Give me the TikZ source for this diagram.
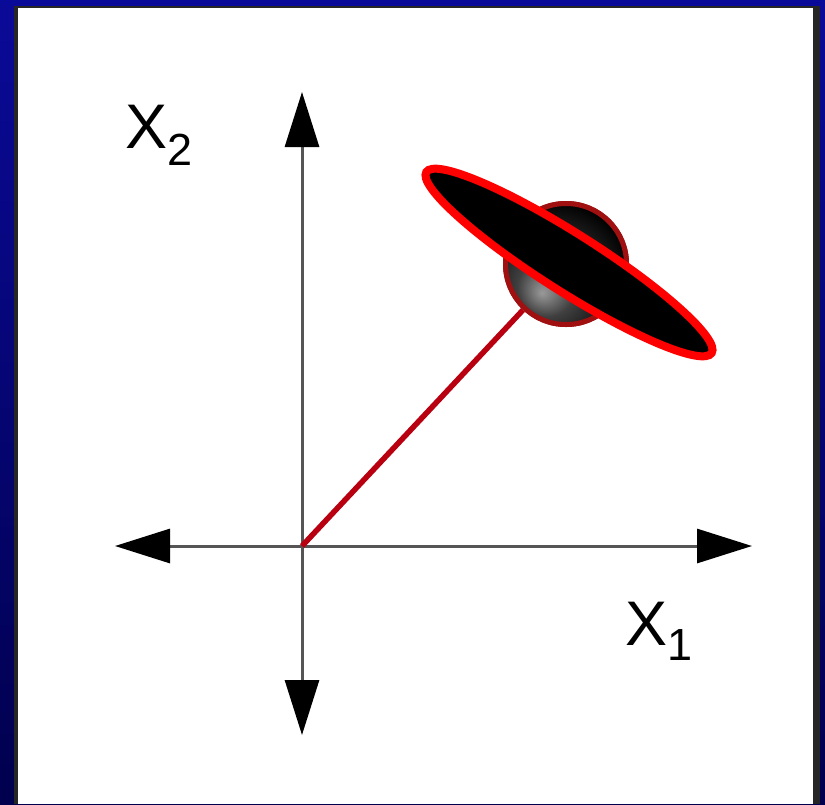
\documentclass[tikz,border=0pt]{standalone}
\usepackage{fontspec}
\setmainfont{Liberation Sans}
\usetikzlibrary{arrows.meta,shapes.geometric}
\definecolor{navytop}{HTML}{0A0A98}
\definecolor{navybot}{HTML}{00004E}
\definecolor{axisgray}{HTML}{555555}
\definecolor{linered}{HTML}{B80010}
\definecolor{rimred}{HTML}{A01010}
\definecolor{ringred}{HTML}{FF0000}
\pgfdeclareradialshading{sphshade}{\pgfpoint{-10bp}{-12bp}}{%
  color(0bp)=(gray!80);
  color(12bp)=(gray!50!black);
  color(24bp)=(black!90);
  color(32bp)=(black);
  color(60bp)=(black)}
\tikzset{
  axisline/.style={draw=axisgray, line width=3pt,
    {Triangle[length=55pt,width=34pt,color=black]}-{Triangle[length=55pt,width=34pt,color=black]}},
  vecline/.style={draw=linered, line width=5.5pt},
  sphere/.style={circle, draw=rimred, line width=5pt, minimum size=121pt,
    inner sep=0pt, shading=sphshade},
  disc/.style={ellipse, draw=ringred, fill=black, line width=8pt,
    minimum width=338pt, minimum height=58pt, inner sep=0pt},
  lab/.style={inner sep=0pt, anchor=base west, font=\fontsize{63}{63}\selectfont},
}
\begin{document}
\begin{tikzpicture}[x=1pt,y=-1pt]
\useasboundingbox (0,0) rectangle (825,804);
% frame
\shade[top color=navytop, bottom color=navybot] (0,0) rectangle (825,804);
\fill[black!85] (14,6) rectangle (820,804);
\fill[white] (18,8) rectangle (813,804);
% axes
\coordinate (L) at (115,546);
\coordinate (R) at (752,546);
\coordinate (T) at (302,92);
\coordinate (B) at (302,735);
\coordinate (O) at (302,546);
\draw[axisline] (L) -- (R);
\draw[axisline] (B) -- (T);
% sphere and vector
\node[sphere] (S) at (566,264) {};
\draw[vecline] (O) -- (S);
\node[sphere] at (566,264) {};
% disc
\node[disc, rotate=-32.4] (D) at (569,262.5) {};
% labels
\node[lab] (X2) at (125,148) {X\raisebox{-17pt}{\fontsize{45}{45}\selectfont 2}};
\node[lab] (X1) at (625,645) {X\raisebox{-15pt}{\fontsize{45}{45}\selectfont 1}};
\end{tikzpicture}
\end{document}
